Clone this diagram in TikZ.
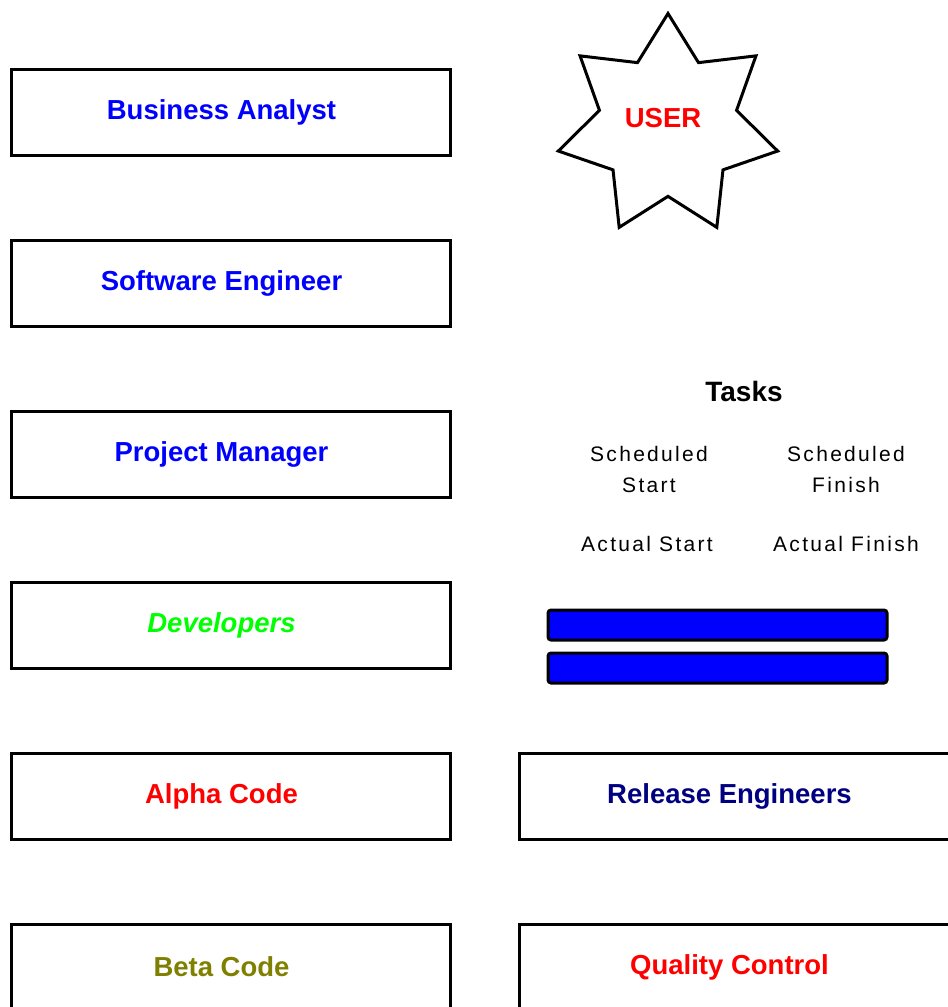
\documentclass[tikz,border=0pt]{standalone}
\usepackage{fontspec}
\setmainfont{Liberation Sans}
\newfontfamily\taskfont[LetterSpace=11]{Liberation Sans}
\usetikzlibrary{shapes.geometric}

\definecolor{olivecode}{RGB}{128,128,0}
\definecolor{navyrel}{RGB}{0,0,128}

\tikzset{
  rolebox/.style={draw, line width=3pt, minimum width=439pt, minimum height=86pt,
    inner sep=0pt},
  rolelabel/.style={inner sep=0pt, xshift=-9pt, font=\fontsize{27.5}{33}\selectfont\bfseries},
  tasktext/.style={align=center, inner sep=0pt, font=\taskfont\fontsize{21}{31}\selectfont},
  taskbar/.style={draw, line width=3pt, fill=blue, rounded corners=3pt,
    minimum width=339pt, minimum height=30pt, inner sep=0pt}
}

\begin{document}
\begin{tikzpicture}[x=1pt,y=-1pt]
  % cadre de la page
  \useasboundingbox (0,0) rectangle (948,1007);
  \clip (0,0) rectangle (948,1007);

  % roles (colonne gauche)
  \node[rolebox] (analyst) at (230.5,112) {};
  \node[rolebox] (engineer) at (230.5,283) {};
  \node[rolebox] (manager) at (230.5,454) {};
  \node[rolebox] (devs) at (230.5,625) {};
  \node[rolebox] (alpha) at (230.5,796) {};
  \node[rolebox] (beta) at (230.5,967) {};
  \node[rolelabel, text=blue] (analystlbl) at (analyst) {Business Analyst};
  \node[rolelabel, text=blue] (engineerlbl) at (engineer) {Software Engineer};
  \node[rolelabel, text=blue] (managerlbl) at (manager) {Project Manager};
  \node[rolelabel, text=green] (devslbl) at (devs) {\itshape Developers};
  \node[rolelabel, text=red] (alphalbl) at (alpha) {Alpha Code};
  \node[rolelabel, text=olivecode] (betalbl) at (beta) {Beta Code};

  % colonne droite
  \node[rolebox] (release) at (738.5,796) {};
  \node[rolebox] (quality) at (738.5,967) {};
  \node[rolelabel, text=navyrel] (releaselbl) at (release) {Release Engineers};
  \node[rolelabel, text=red] (qualitylbl) at (quality) {Quality Control};

  % utilisateur
  \node[star, star points=7, star point ratio=1.6, minimum size=225pt,
    draw, line width=3pt, inner sep=0pt] (user) at (668,126) {};
  \node[rolelabel, text=red, xshift=4pt, yshift=8pt] (userlbl) at (user) {USER};

  % taches
  \node[font=\fontsize{28}{33}\selectfont\bfseries] (tasks) at (744,391) {Tasks};
  \node[tasktext] (schedstart) at (649,469) {Scheduled\\Start};
  \node[tasktext] (schedfinish) at (846,469) {Scheduled\\Finish};
  \node[tasktext] (actstart) at (647,544) {Actual Start};
  \node[tasktext] (actfinish) at (846,544) {Actual Finish};

  % barres
  \node[taskbar] (bar1) at (717.5,625) {};
  \node[taskbar] (bar2) at (717.5,668) {};
\end{tikzpicture}
\end{document}
